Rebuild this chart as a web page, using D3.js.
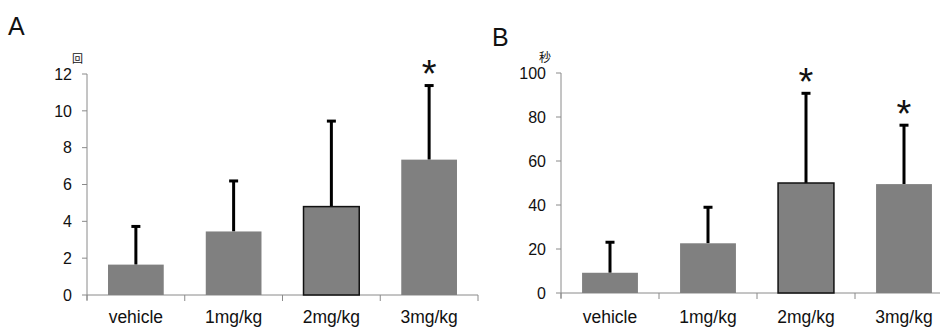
<!DOCTYPE html>
<html>
<head>
<meta charset="utf-8">
<script src="https://cdn.jsdelivr.net/npm/d3@7"></script>
<style>
  body { margin: 0; background: #fff; }
  svg { display: block; }
  text { font-family: "Liberation Sans", Arial, sans-serif; fill: #111; }
</style>
</head>
<body>
<svg width="940" height="328"></svg>
<script>
// data
const categories = ["vehicle", "1mg/kg", "2mg/kg", "3mg/kg"];

const countMeans = [1.65, 3.45, 4.8, 7.35];
const countErrTops = [3.75, 6.22, 9.47, 11.4];
const countStars = [false, false, false, true];
const countTicks = [0, 2, 4, 6, 8, 10, 12];

const secMeans = [9.2, 22.6, 50.0, 49.5];
const secErrTops = [23.3, 39.2, 91.0, 76.5];
const secStars = [false, false, true, true];
const secTicks = [0, 20, 40, 60, 80, 100];

const svg = d3.select("svg");

function drawPanel(opts) {
  const g = svg.append("g");
  const x = d3.scaleBand()
    .domain(categories)
    .range([opts.left, opts.right])
    .paddingInner(0.43)
    .paddingOuter(0.215);
  const y = d3.scaleLinear()
    .domain([0, opts.max])
    .range([opts.bottom, opts.top]);

  // y axis line + ticks
  g.append("line")
    .attr("x1", opts.left).attr("x2", opts.left)
    .attr("y1", y(opts.max)).attr("y2", opts.bottom + 5)
    .attr("stroke", "#8a8a8a").attr("stroke-width", 1);
  g.selectAll(".ytick").data(opts.ticks).enter().append("line")
    .attr("x1", opts.left - 5).attr("x2", opts.left)
    .attr("y1", (d) => y(d)).attr("y2", (d) => y(d))
    .attr("stroke", "#8a8a8a");
  g.selectAll(".ylab").data(opts.ticks).enter().append("text")
    .attr("x", opts.left - 15)
    .attr("y", (d) => y(d))
    .attr("dy", "0.36em")
    .attr("text-anchor", "end")
    .attr("font-size", 16)
    .text((d) => d);

  // x axis line + boundary ticks
  g.append("line")
    .attr("x1", opts.left).attr("x2", opts.right)
    .attr("y1", opts.bottom).attr("y2", opts.bottom)
    .attr("stroke", "#8a8a8a");
  const bounds = d3.range(categories.length + 1).map((i) => opts.left + i * x.step());
  g.selectAll(".xtick").data(bounds).enter().append("line")
    .attr("x1", (d) => d).attr("x2", (d) => d)
    .attr("y1", opts.bottom).attr("y2", opts.bottom + 6)
    .attr("stroke", "#8a8a8a");
  g.selectAll(".xlab").data(categories).enter().append("text")
    .attr("x", (d) => x(d) + x.bandwidth() / 2)
    .attr("y", 323)
    .attr("text-anchor", "middle")
    .attr("font-size", 17.5)
    .text((d) => d);

  // error bars (upper only)
  const bw = x.bandwidth();
  categories.forEach((c, i) => {
    const cx = x(c) + bw / 2;
    g.append("line")
      .attr("x1", cx).attr("x2", cx)
      .attr("y1", y(opts.means[i])).attr("y2", y(opts.errs[i]))
      .attr("stroke", "#000").attr("stroke-width", 3);
    g.append("line")
      .attr("x1", cx - 4.5).attr("x2", cx + 4.5)
      .attr("y1", y(opts.errs[i]) + 0.5).attr("y2", y(opts.errs[i]) + 0.5)
      .attr("stroke", "#000").attr("stroke-width", 3);
    if (opts.stars[i]) {
      g.append("text")
        .attr("x", cx)
        .attr("y", y(opts.errs[i]) + 2)
        .attr("text-anchor", "middle")
        .attr("font-size", 38)
        .text("*");
    }
  });

  // bars
  g.selectAll(".bar").data(categories).enter().append("rect")
    .attr("x", (d) => x(d))
    .attr("y", (d, i) => y(opts.means[i]))
    .attr("width", bw)
    .attr("height", (d, i) => opts.bottom - y(opts.means[i]))
    .attr("fill", "#808080")
    .attr("stroke", (d, i) => (i === 2 ? "#111" : "none"))
    .attr("stroke-width", 1.5);

  // panel letter + unit
  g.append("text")
    .attr("x", opts.letterX).attr("y", opts.letterY)
    .attr("font-size", 25)
    .text(opts.letter);
  g.append("text")
    .attr("x", opts.unitX).attr("y", opts.unitY)
    .attr("font-size", opts.unitSize)
    .style("font-family", "'Noto Sans CJK JP', sans-serif")
    .text(opts.unit);
}

drawPanel({
  left: 87, right: 478, top: 74, bottom: 295, max: 12,
  ticks: countTicks, means: countMeans, errs: countErrTops, stars: countStars,
  letter: "A", letterX: 8, letterY: 35,
  unit: "回", unitX: 72, unitY: 63, unitSize: 11
});

drawPanel({
  left: 561, right: 953, top: 73, bottom: 293, max: 100,
  ticks: secTicks, means: secMeans, errs: secErrTops, stars: secStars,
  letter: "B", letterX: 492, letterY: 46,
  unit: "秒", unitX: 539, unitY: 62, unitSize: 12
});
</script>
</body>
</html>
